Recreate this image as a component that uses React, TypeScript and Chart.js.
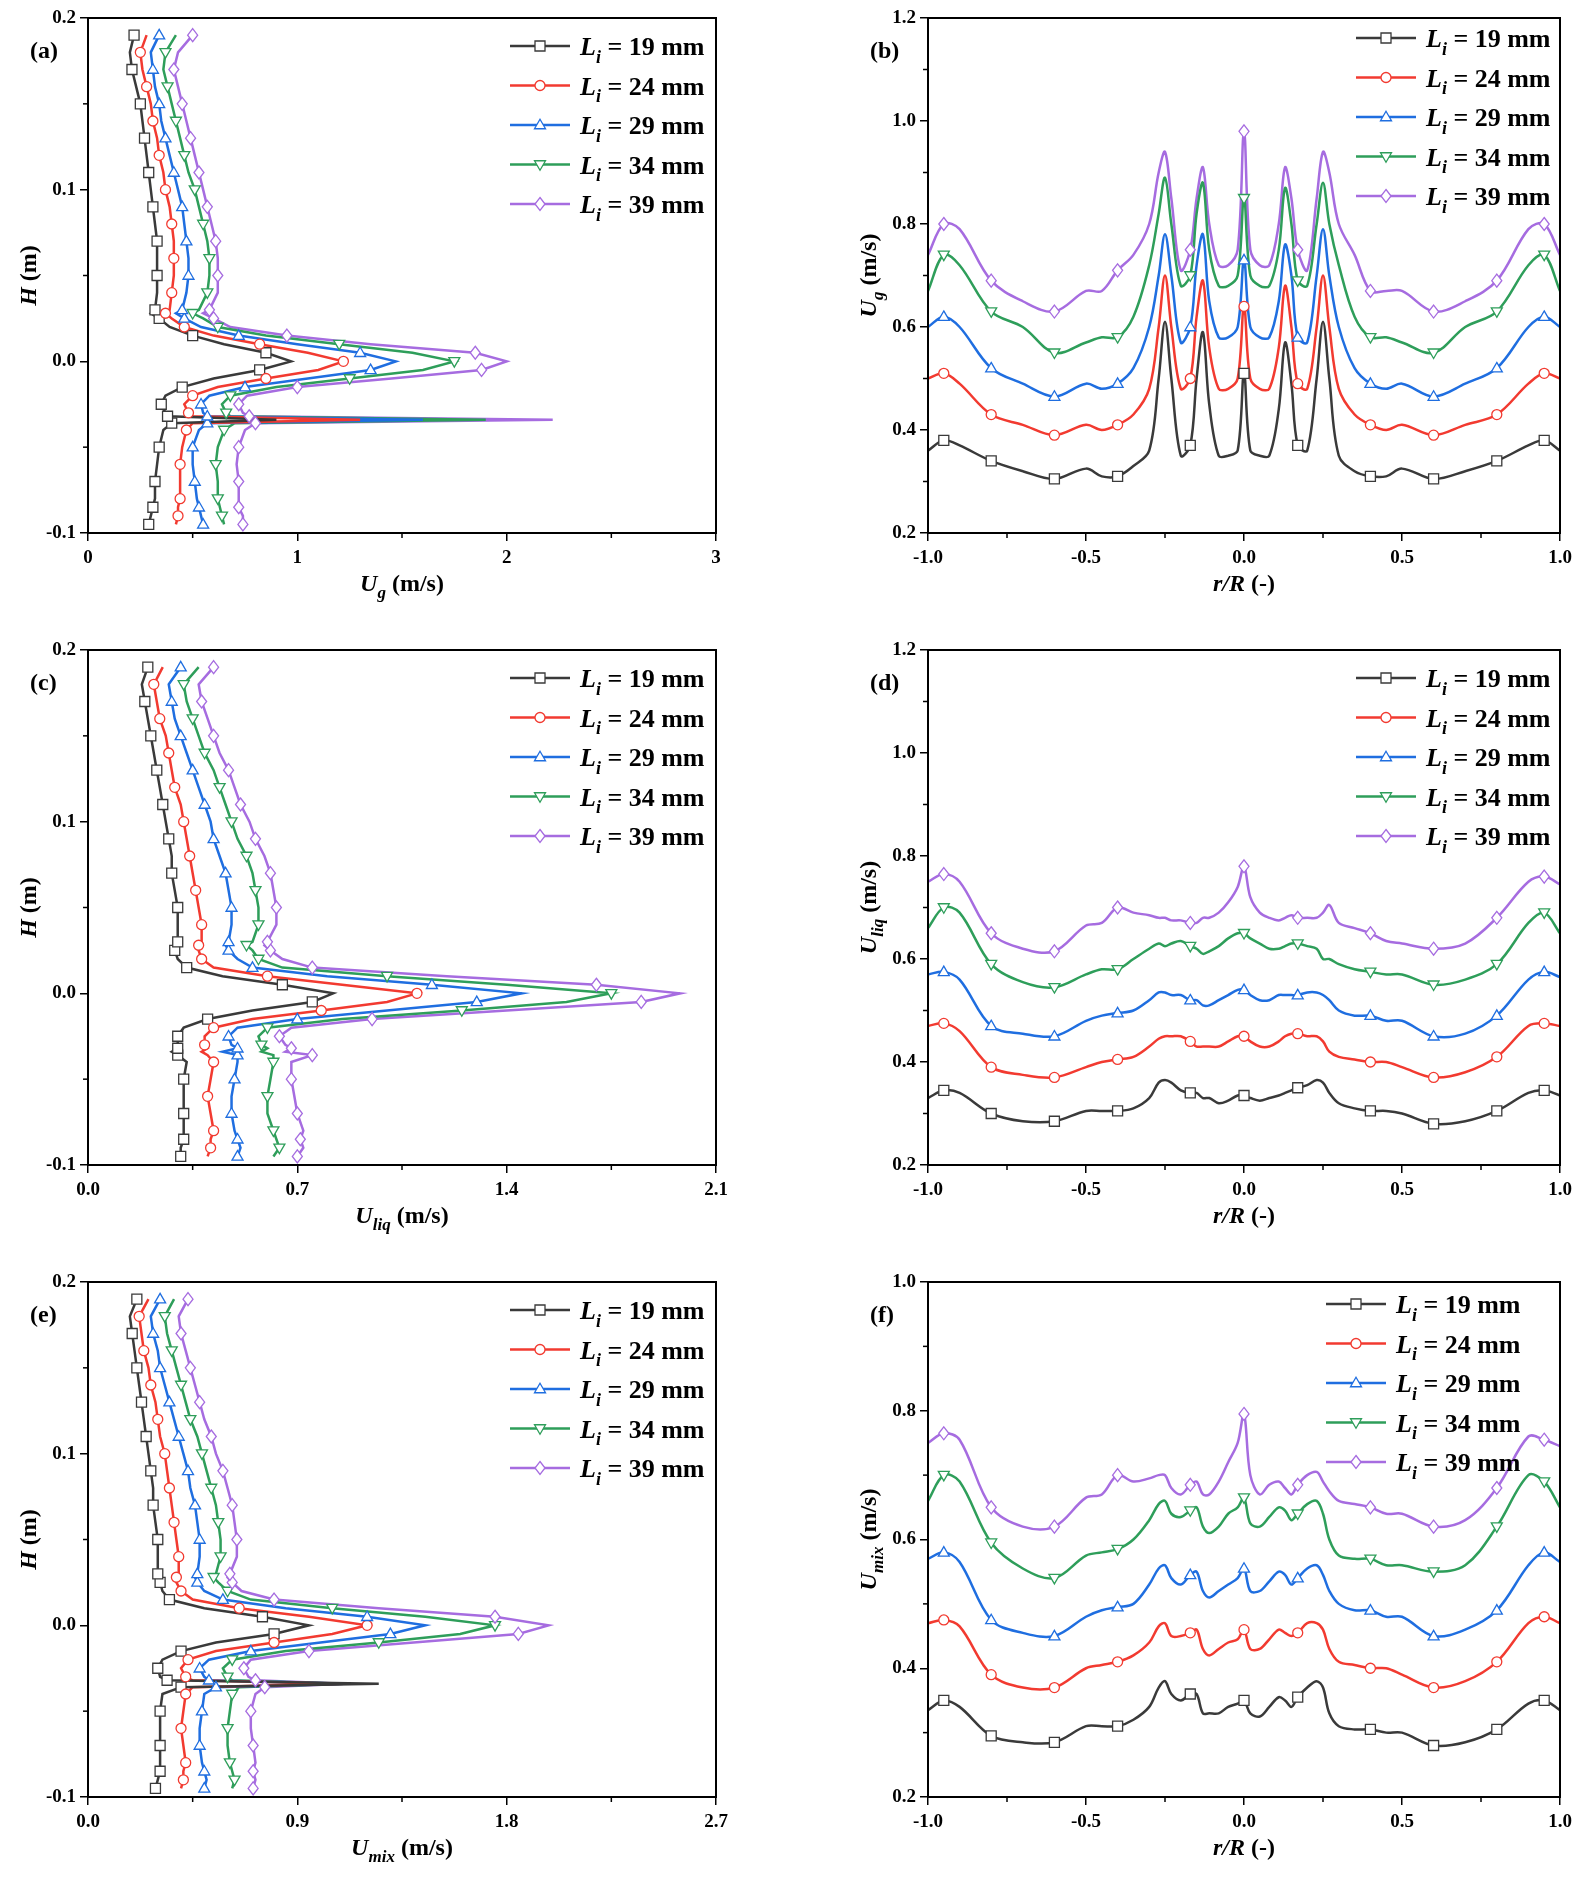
import React, { useEffect, useRef } from "react";
import { Chart, registerables } from "chart.js";
Chart.register(...registerables);

const SERIES_LABELS = ["19", "24", "29", "34", "39"];
const COLORS = ["#3a3a3a", "#f23a30", "#1f6ee0", "#2e9e5a", "#a66ce0"];
const STYLES = ["rect", "circle", "triangle", "triangleDown", "rectRot"];

const H = [-0.095,-0.09,-0.085,-0.08,-0.07,-0.06,-0.05,-0.04,-0.036,-0.034,-0.032,-0.03,-0.025,-0.02,-0.015,-0.01,-0.005,0,0.005,0.01,0.015,0.02,0.025,0.028,0.03,0.04,0.05,0.06,0.07,0.08,0.09,0.1,0.11,0.12,0.13,0.14,0.15,0.16,0.17,0.18,0.19];

const UG_19 = [0.29,0.3,0.31,0.32,0.32,0.33,0.34,0.36,0.4,0.9,0.38,0.37,0.35,0.37,0.45,0.6,0.82,0.97,0.85,0.65,0.5,0.39,0.34,0.3,0.32,0.33,0.33,0.33,0.33,0.32,0.31,0.3,0.29,0.28,0.27,0.26,0.25,0.23,0.21,0.2,0.22];
const UG_24 = [0.42,0.43,0.43,0.44,0.44,0.44,0.45,0.47,0.5,1.3,0.5,0.48,0.46,0.5,0.62,0.85,1.1,1.22,1.05,0.82,0.6,0.46,0.4,0.37,0.39,0.4,0.41,0.41,0.41,0.4,0.39,0.37,0.36,0.34,0.33,0.31,0.3,0.28,0.26,0.25,0.28];
const UG_29 = [0.55,0.54,0.53,0.52,0.51,0.5,0.5,0.53,0.57,1.6,0.57,0.55,0.54,0.58,0.75,1.05,1.35,1.47,1.3,1.0,0.72,0.54,0.46,0.42,0.45,0.47,0.48,0.48,0.47,0.46,0.45,0.43,0.41,0.39,0.37,0.35,0.34,0.32,0.31,0.3,0.34];
const UG_34 = [0.65,0.64,0.63,0.62,0.62,0.61,0.62,0.65,0.7,1.9,0.68,0.66,0.64,0.68,0.9,1.25,1.6,1.75,1.55,1.2,0.85,0.62,0.55,0.5,0.53,0.57,0.58,0.58,0.57,0.55,0.53,0.51,0.48,0.46,0.44,0.42,0.4,0.38,0.36,0.37,0.42];
const UG_39 = [0.74,0.74,0.72,0.72,0.72,0.71,0.72,0.75,0.8,2.22,0.77,0.74,0.72,0.76,1.0,1.45,1.88,2.0,1.85,1.35,0.95,0.68,0.6,0.55,0.58,0.62,0.62,0.62,0.61,0.59,0.57,0.55,0.53,0.51,0.49,0.47,0.45,0.43,0.41,0.43,0.5];

const UL_19 = [0.31,0.31,0.32,0.32,0.32,0.32,0.32,0.33,0.3,0.28,0.3,0.3,0.3,0.32,0.4,0.55,0.75,0.82,0.65,0.45,0.33,0.3,0.29,0.29,0.3,0.3,0.3,0.29,0.28,0.28,0.27,0.26,0.25,0.24,0.23,0.22,0.21,0.2,0.19,0.18,0.2];
const UL_24 = [0.4,0.41,0.41,0.42,0.41,0.4,0.41,0.42,0.4,0.38,0.4,0.39,0.39,0.42,0.55,0.78,1.0,1.1,0.85,0.6,0.42,0.38,0.37,0.37,0.38,0.38,0.37,0.36,0.35,0.34,0.33,0.32,0.31,0.29,0.28,0.27,0.26,0.24,0.23,0.22,0.25];
const UL_29 = [0.5,0.51,0.5,0.49,0.48,0.48,0.49,0.5,0.5,0.45,0.5,0.48,0.47,0.5,0.7,1.0,1.3,1.45,1.15,0.8,0.55,0.5,0.47,0.46,0.47,0.48,0.48,0.47,0.46,0.44,0.42,0.41,0.39,0.37,0.35,0.33,0.31,0.29,0.28,0.27,0.31];
const UL_34 = [0.62,0.64,0.63,0.62,0.6,0.6,0.61,0.62,0.62,0.58,0.6,0.58,0.57,0.6,0.85,1.25,1.6,1.75,1.4,1.0,0.65,0.57,0.55,0.53,0.55,0.57,0.57,0.56,0.55,0.53,0.5,0.48,0.46,0.44,0.42,0.39,0.37,0.35,0.33,0.32,0.37];
const UL_39 = [0.7,0.72,0.71,0.72,0.7,0.69,0.68,0.68,0.75,0.66,0.68,0.66,0.64,0.68,0.95,1.4,1.85,1.98,1.7,1.2,0.75,0.65,0.61,0.59,0.6,0.63,0.63,0.62,0.61,0.59,0.56,0.54,0.51,0.49,0.47,0.44,0.42,0.4,0.38,0.37,0.42];

const UM_19 = [0.29,0.3,0.31,0.31,0.31,0.31,0.31,0.32,0.4,1.25,0.34,0.31,0.3,0.32,0.4,0.55,0.8,0.95,0.75,0.5,0.35,0.32,0.31,0.3,0.3,0.3,0.3,0.29,0.28,0.28,0.27,0.26,0.25,0.24,0.23,0.22,0.21,0.2,0.19,0.18,0.21];
const UM_24 = [0.4,0.41,0.41,0.42,0.41,0.4,0.41,0.42,0.45,1.1,0.45,0.42,0.4,0.43,0.55,0.8,1.05,1.2,0.95,0.65,0.45,0.4,0.38,0.38,0.39,0.39,0.38,0.37,0.36,0.35,0.34,0.33,0.31,0.3,0.29,0.27,0.26,0.24,0.23,0.22,0.26];
const UM_29 = [0.5,0.51,0.5,0.49,0.48,0.48,0.49,0.5,0.55,1.1,0.52,0.5,0.48,0.52,0.7,1.0,1.3,1.45,1.2,0.85,0.58,0.5,0.47,0.46,0.47,0.48,0.48,0.47,0.46,0.44,0.43,0.41,0.39,0.37,0.35,0.33,0.31,0.3,0.28,0.27,0.31];
const UM_34 = [0.62,0.63,0.62,0.61,0.6,0.6,0.61,0.62,0.65,1.1,0.62,0.6,0.58,0.62,0.85,1.25,1.6,1.75,1.45,1.05,0.7,0.6,0.56,0.54,0.55,0.57,0.57,0.56,0.55,0.53,0.51,0.49,0.47,0.44,0.42,0.4,0.38,0.36,0.34,0.33,0.37];
const UM_39 = [0.71,0.72,0.71,0.72,0.71,0.7,0.7,0.72,0.76,1.1,0.72,0.69,0.67,0.7,0.95,1.4,1.85,1.98,1.75,1.25,0.8,0.66,0.62,0.6,0.61,0.64,0.64,0.63,0.62,0.6,0.58,0.55,0.53,0.5,0.48,0.46,0.44,0.42,0.4,0.39,0.43];

const R = [-1,-0.95,-0.9,-0.8,-0.7,-0.6,-0.5,-0.45,-0.4,-0.35,-0.3,-0.27,-0.25,-0.23,-0.2,-0.17,-0.15,-0.13,-0.11,-0.08,-0.05,-0.02,0,0.02,0.05,0.08,0.11,0.13,0.15,0.17,0.2,0.23,0.25,0.27,0.3,0.35,0.4,0.45,0.5,0.6,0.7,0.8,0.9,0.95,1];

const RG_19 = [0.36,0.38,0.37,0.34,0.32,0.305,0.325,0.31,0.31,0.33,0.36,0.5,0.61,0.5,0.35,0.37,0.5,0.59,0.45,0.35,0.35,0.36,0.51,0.36,0.35,0.35,0.44,0.57,0.49,0.37,0.36,0.5,0.61,0.5,0.35,0.32,0.31,0.31,0.325,0.305,0.32,0.34,0.37,0.38,0.36];
const RG_24 = [0.5,0.51,0.49,0.43,0.41,0.39,0.41,0.4,0.41,0.43,0.48,0.6,0.7,0.6,0.48,0.5,0.62,0.69,0.56,0.48,0.48,0.5,0.64,0.5,0.48,0.48,0.56,0.68,0.6,0.49,0.48,0.6,0.7,0.6,0.48,0.43,0.41,0.4,0.41,0.39,0.41,0.43,0.49,0.51,0.5];
const RG_29 = [0.6,0.62,0.6,0.52,0.49,0.465,0.49,0.48,0.49,0.52,0.6,0.7,0.78,0.7,0.57,0.6,0.72,0.78,0.65,0.58,0.58,0.6,0.73,0.6,0.58,0.58,0.65,0.76,0.7,0.58,0.57,0.7,0.79,0.7,0.6,0.52,0.49,0.48,0.49,0.465,0.49,0.52,0.6,0.62,0.6];
const RG_34 = [0.67,0.74,0.72,0.63,0.6,0.55,0.57,0.58,0.58,0.62,0.72,0.82,0.89,0.8,0.68,0.7,0.82,0.88,0.75,0.68,0.68,0.7,0.85,0.7,0.68,0.68,0.75,0.87,0.8,0.69,0.68,0.8,0.88,0.8,0.72,0.62,0.58,0.58,0.57,0.55,0.6,0.63,0.72,0.74,0.67];
const RG_39 = [0.74,0.8,0.79,0.69,0.65,0.63,0.67,0.67,0.71,0.74,0.8,0.9,0.94,0.85,0.71,0.75,0.85,0.91,0.8,0.72,0.72,0.75,0.98,0.75,0.72,0.72,0.8,0.91,0.85,0.75,0.71,0.85,0.94,0.9,0.8,0.74,0.67,0.67,0.67,0.63,0.65,0.69,0.79,0.8,0.74];

const RL_19 = [0.33,0.345,0.34,0.3,0.285,0.285,0.305,0.305,0.305,0.31,0.33,0.36,0.365,0.36,0.345,0.34,0.34,0.33,0.33,0.32,0.325,0.335,0.335,0.33,0.325,0.33,0.335,0.34,0.345,0.35,0.355,0.365,0.36,0.34,0.32,0.31,0.305,0.305,0.3,0.28,0.285,0.305,0.34,0.345,0.335];
const RL_24 = [0.47,0.475,0.46,0.39,0.375,0.37,0.39,0.4,0.405,0.41,0.43,0.445,0.45,0.45,0.45,0.44,0.43,0.43,0.43,0.43,0.44,0.45,0.45,0.44,0.43,0.43,0.44,0.45,0.455,0.455,0.45,0.45,0.44,0.42,0.41,0.405,0.4,0.4,0.39,0.37,0.38,0.41,0.47,0.475,0.47];
const RL_29 = [0.57,0.575,0.56,0.47,0.455,0.45,0.48,0.49,0.495,0.5,0.52,0.535,0.535,0.53,0.53,0.52,0.52,0.51,0.51,0.52,0.53,0.54,0.54,0.53,0.52,0.52,0.53,0.53,0.53,0.53,0.535,0.535,0.53,0.52,0.5,0.49,0.49,0.48,0.48,0.45,0.455,0.49,0.56,0.575,0.565];
const RL_34 = [0.66,0.7,0.69,0.59,0.555,0.545,0.57,0.58,0.58,0.6,0.62,0.63,0.625,0.63,0.635,0.625,0.62,0.61,0.615,0.625,0.64,0.65,0.65,0.64,0.63,0.62,0.62,0.625,0.63,0.63,0.625,0.62,0.6,0.6,0.59,0.58,0.575,0.57,0.57,0.55,0.56,0.59,0.67,0.69,0.65];
const RL_39 = [0.75,0.765,0.75,0.65,0.62,0.615,0.665,0.67,0.7,0.69,0.685,0.68,0.68,0.675,0.675,0.67,0.67,0.68,0.68,0.69,0.71,0.74,0.78,0.72,0.69,0.68,0.675,0.68,0.685,0.68,0.68,0.68,0.69,0.705,0.67,0.66,0.65,0.635,0.63,0.62,0.63,0.68,0.75,0.76,0.745];

const RM_19 = [0.335,0.35,0.34,0.295,0.285,0.285,0.31,0.31,0.31,0.32,0.34,0.37,0.38,0.36,0.35,0.36,0.36,0.33,0.33,0.33,0.34,0.345,0.35,0.33,0.325,0.34,0.355,0.35,0.34,0.355,0.37,0.38,0.37,0.33,0.31,0.305,0.305,0.3,0.3,0.28,0.285,0.305,0.345,0.35,0.335];
const RM_24 = [0.47,0.475,0.465,0.39,0.37,0.37,0.4,0.405,0.41,0.42,0.44,0.465,0.47,0.45,0.45,0.455,0.46,0.43,0.42,0.43,0.44,0.445,0.46,0.43,0.43,0.445,0.46,0.455,0.45,0.455,0.47,0.47,0.46,0.43,0.41,0.405,0.4,0.4,0.39,0.37,0.38,0.41,0.47,0.48,0.47];
const RM_29 = [0.57,0.58,0.565,0.475,0.455,0.45,0.48,0.49,0.495,0.5,0.53,0.555,0.56,0.54,0.53,0.545,0.55,0.52,0.51,0.52,0.53,0.54,0.555,0.52,0.52,0.535,0.55,0.545,0.53,0.54,0.555,0.56,0.545,0.52,0.5,0.49,0.49,0.48,0.48,0.45,0.46,0.49,0.56,0.58,0.565];
const RM_34 = [0.66,0.7,0.69,0.595,0.555,0.54,0.575,0.58,0.585,0.6,0.63,0.655,0.66,0.64,0.635,0.645,0.65,0.62,0.61,0.62,0.64,0.65,0.665,0.625,0.62,0.635,0.65,0.645,0.63,0.64,0.655,0.66,0.64,0.6,0.575,0.57,0.57,0.56,0.56,0.55,0.56,0.62,0.7,0.69,0.65];
const RM_39 = [0.75,0.765,0.755,0.65,0.62,0.62,0.665,0.67,0.7,0.69,0.695,0.7,0.7,0.68,0.67,0.685,0.69,0.67,0.67,0.69,0.72,0.75,0.795,0.7,0.67,0.685,0.69,0.68,0.67,0.685,0.7,0.705,0.69,0.675,0.66,0.655,0.65,0.64,0.64,0.62,0.63,0.68,0.76,0.755,0.745];

const RIGHT_MARKERS = [1, 3, 5, 8, 15, 22, 29, 36, 39, 41, 43];

type Part = { t: string; it?: boolean; sub?: boolean };
const FONT = '"Liberation Serif", "Times New Roman", serif';

function partFont(p: Part, size: number) {
  const s = p.sub ? Math.round(size * 0.7) : size;
  return `${p.it ? "italic " : ""}bold ${s}px ${FONT}`;
}
function measureParts(ctx: CanvasRenderingContext2D, parts: Part[], size: number) {
  let w = 0;
  for (const p of parts) { ctx.font = partFont(p, size); w += ctx.measureText(p.t).width; }
  return w;
}
function drawParts(ctx: CanvasRenderingContext2D, parts: Part[], x: number, y: number, size: number) {
  ctx.textBaseline = "alphabetic";
  ctx.textAlign = "left";
  let cx = x;
  for (const p of parts) {
    ctx.font = partFont(p, size);
    ctx.fillText(p.t, cx, p.sub ? y + size * 0.3 : y);
    cx += ctx.measureText(p.t).width;
  }
}

function drawMarker(ctx: CanvasRenderingContext2D, style: string, x: number, y: number, r: number, color: string) {
  ctx.save();
  ctx.beginPath();
  if (style === "rect") ctx.rect(x - r, y - r, 2 * r, 2 * r);
  else if (style === "circle") ctx.arc(x, y, r, 0, Math.PI * 2);
  else if (style === "triangle") { ctx.moveTo(x, y - r * 1.15); ctx.lineTo(x + r * 1.1, y + r * 0.75); ctx.lineTo(x - r * 1.1, y + r * 0.75); ctx.closePath(); }
  else if (style === "triangleDown") { ctx.moveTo(x, y + r * 1.15); ctx.lineTo(x + r * 1.1, y - r * 0.75); ctx.lineTo(x - r * 1.1, y - r * 0.75); ctx.closePath(); }
  else { ctx.moveTo(x, y - r * 1.3); ctx.lineTo(x + r * 1.0, y); ctx.lineTo(x, y + r * 1.3); ctx.lineTo(x - r * 1.0, y); ctx.closePath(); }
  ctx.fillStyle = "#fff";
  ctx.fill();
  ctx.lineWidth = 1.3;
  ctx.strokeStyle = color;
  ctx.stroke();
  ctx.restore();
}

type PanelCfg = {
  label: string;
  left: boolean;
  xs: number[][] | null;
  ys: number[][] | null;
  xMin: number; xMax: number; xStep: number; xDec: number;
  yMin: number; yMax: number; yStep: number;
  xTitle: Part[]; yTitle: Part[];
  legendDx: number; legendDy: number;
  pos: { left: number; top: number; width: number };
};

const ROW_TOPS = [0, 632, 1264];
const COL1 = { left: 0, width: 746 };
const COL2 = { left: 840, width: 748 };
const CANVAS_H = 608;

const PANELS: PanelCfg[] = [
  { label: "(a)", left: true, xs: [UG_19, UG_24, UG_29, UG_34, UG_39], ys: null, xMin: 0, xMax: 3, xStep: 1, xDec: 0, yMin: -0.1, yMax: 0.2, yStep: 0.1,
    xTitle: [{ t: "U", it: true }, { t: "g", it: true, sub: true }, { t: " (m/s)" }], yTitle: [{ t: "H", it: true }, { t: " (m)" }], legendDx: 422, legendDy: 28, pos: { left: COL1.left, top: ROW_TOPS[0], width: COL1.width } },
  { label: "(b)", left: false, xs: null, ys: [RG_19, RG_24, RG_29, RG_34, RG_39], xMin: -1, xMax: 1, xStep: 0.5, xDec: 1, yMin: 0.2, yMax: 1.2, yStep: 0.2,
    xTitle: [{ t: "r/R", it: true }, { t: " (-)" }], yTitle: [{ t: "U", it: true }, { t: "g", it: true, sub: true }, { t: " (m/s)" }], legendDx: 428, legendDy: 20, pos: { left: COL2.left, top: ROW_TOPS[0], width: COL2.width } },
  { label: "(c)", left: true, xs: [UL_19, UL_24, UL_29, UL_34, UL_39], ys: null, xMin: 0, xMax: 2.1, xStep: 0.7, xDec: 1, yMin: -0.1, yMax: 0.2, yStep: 0.1,
    xTitle: [{ t: "U", it: true }, { t: "liq", it: true, sub: true }, { t: " (m/s)" }], yTitle: [{ t: "H", it: true }, { t: " (m)" }], legendDx: 422, legendDy: 28, pos: { left: COL1.left, top: ROW_TOPS[1], width: COL1.width } },
  { label: "(d)", left: false, xs: null, ys: [RL_19, RL_24, RL_29, RL_34, RL_39], xMin: -1, xMax: 1, xStep: 0.5, xDec: 1, yMin: 0.2, yMax: 1.2, yStep: 0.2,
    xTitle: [{ t: "r/R", it: true }, { t: " (-)" }], yTitle: [{ t: "U", it: true }, { t: "liq", it: true, sub: true }, { t: " (m/s)" }], legendDx: 428, legendDy: 28, pos: { left: COL2.left, top: ROW_TOPS[1], width: COL2.width } },
  { label: "(e)", left: true, xs: [UM_19, UM_24, UM_29, UM_34, UM_39], ys: null, xMin: 0, xMax: 2.7, xStep: 0.9, xDec: 1, yMin: -0.1, yMax: 0.2, yStep: 0.1,
    xTitle: [{ t: "U", it: true }, { t: "mix", it: true, sub: true }, { t: " (m/s)" }], yTitle: [{ t: "H", it: true }, { t: " (m)" }], legendDx: 422, legendDy: 28, pos: { left: COL1.left, top: ROW_TOPS[2], width: COL1.width } },
  { label: "(f)", left: false, xs: null, ys: [RM_19, RM_24, RM_29, RM_34, RM_39], xMin: -1, xMax: 1, xStep: 0.5, xDec: 1, yMin: 0.2, yMax: 1.0, yStep: 0.2,
    xTitle: [{ t: "r/R", it: true }, { t: " (-)" }], yTitle: [{ t: "U", it: true }, { t: "mix", it: true, sub: true }, { t: " (m/s)" }], legendDx: 398, legendDy: 22, pos: { left: COL2.left, top: ROW_TOPS[2], width: COL2.width } },
];

function Panel({ cfg }: { cfg: PanelCfg }) {
  const ref = useRef<HTMLCanvasElement>(null);
  useEffect(() => {
    if (!ref.current) return;
    const datasets = SERIES_LABELS.map((lab, i) => {
      const data = cfg.left
        ? H.map((h, k) => ({ x: (cfg.xs as number[][])[i][k], y: h }))
        : R.map((r, k) => ({ x: r, y: (cfg.ys as number[][])[i][k] }));
      const markerIdx = (k: number) => cfg.left ? (k % 2 === (i % 2) && k !== 9) : RIGHT_MARKERS.includes(k);
      return {
        label: lab,
        data,
        showLine: true,
        borderColor: COLORS[i],
        borderWidth: 2.5,
        tension: cfg.left ? 0 : 0.35,
        pointRadius: 0,
        pointHoverRadius: 0,
        _markers: data.map((_, k) => markerIdx(k)),
        _style: STYLES[i],
      } as any;
    });
    const plugin = {
      id: "deco",
      afterDatasetsDraw(chart: any) {
        const ctx = chart.ctx as CanvasRenderingContext2D;
        const ca = chart.chartArea;
        // markers
        chart.data.datasets.forEach((ds: any, i: number) => {
          const meta = chart.getDatasetMeta(i);
          meta.data.forEach((el: any, k: number) => {
            if (ds._markers[k]) drawMarker(ctx, ds._style, el.x, el.y, 5, COLORS[i]);
          });
        });
        ctx.save();
        // frame
        ctx.strokeStyle = "#000";
        ctx.lineWidth = 2;
        ctx.strokeRect(ca.left, ca.top, ca.right - ca.left, ca.bottom - ca.top);
        // minor ticks
        const xs = chart.scales.x, ys = chart.scales.y;
        ctx.lineWidth = 1.5;
        for (let v = cfg.xMin + cfg.xStep / 2; v < cfg.xMax; v += cfg.xStep) {
          const px = xs.getPixelForValue(v);
          ctx.beginPath(); ctx.moveTo(px, ca.bottom); ctx.lineTo(px, ca.bottom + 5); ctx.stroke();
        }
        for (let v = cfg.yMin + cfg.yStep / 2; v < cfg.yMax; v += cfg.yStep) {
          const py = ys.getPixelForValue(v);
          ctx.beginPath(); ctx.moveTo(ca.left, py); ctx.lineTo(ca.left - 5, py); ctx.stroke();
        }
        ctx.fillStyle = "#000";
        // panel label
        ctx.font = `bold 24px ${FONT}`;
        ctx.textAlign = "left";
        ctx.textBaseline = "alphabetic";
        ctx.fillText(cfg.label, ca.left - 58, ca.top + 40);
        // x title
        const xw = measureParts(ctx, cfg.xTitle, 24);
        drawParts(ctx, cfg.xTitle, (ca.left + ca.right) / 2 - xw / 2, ca.bottom + 58, 24);
        // y title
        const yw = measureParts(ctx, cfg.yTitle, 24);
        ctx.save();
        ctx.translate(ca.left - 52, (ca.top + ca.bottom) / 2);
        ctx.rotate(-Math.PI / 2);
        drawParts(ctx, cfg.yTitle, -yw / 2, 0, 24);
        ctx.restore();
        // legend
        for (let i = 0; i < 5; i++) {
          const lx = ca.left + cfg.legendDx;
          const ly = ca.top + cfg.legendDy + i * 39.5;
          ctx.strokeStyle = COLORS[i];
          ctx.lineWidth = 2.5;
          ctx.beginPath(); ctx.moveTo(lx, ly); ctx.lineTo(lx + 60, ly); ctx.stroke();
          drawMarker(ctx, STYLES[i], lx + 30, ly, 5, COLORS[i]);
          ctx.fillStyle = "#000";
          drawParts(ctx, [{ t: "L", it: true }, { t: "i", it: true, sub: true }, { t: ` = ${SERIES_LABELS[i]} mm` }], lx + 70, ly + 9, 26);
        }
        ctx.restore();
      },
    };
    const tickFont = { family: FONT, size: 19, weight: "bold" as const };
    const chart = new Chart(ref.current, {
      type: "scatter",
      data: { datasets },
      options: {
        animation: false,
        responsive: false,
        events: [],
        layout: { padding: { top: 18, right: cfg.pos.width === COL1.width ? 30 : 28, left: 0, bottom: 0 } },
        plugins: { legend: { display: false }, tooltip: { enabled: false } },
        scales: {
          x: {
            type: "linear", min: cfg.xMin, max: cfg.xMax,
            afterFit: (s: any) => { s.height = 75; },
            ticks: { stepSize: cfg.xStep, font: tickFont, color: "#000", padding: 6, callback: (v: any) => Number(v).toFixed(cfg.xDec) },
            grid: { display: true, drawOnChartArea: false, tickLength: 8, color: "#000", lineWidth: 1.5 },
            border: { color: "#000", width: 2 },
          },
          y: {
            type: "linear", min: cfg.yMin, max: cfg.yMax,
            afterFit: (s: any) => { s.width = 88; },
            ticks: { stepSize: cfg.yStep, font: tickFont, color: "#000", padding: 4, callback: (v: any) => Number(v).toFixed(1) },
            grid: { display: true, drawOnChartArea: false, tickLength: 8, color: "#000", lineWidth: 1.5 },
            border: { color: "#000", width: 2 },
          },
        },
      },
      plugins: [plugin],
    } as any);
    return () => chart.destroy();
  }, [cfg]);
  return (
    <canvas
      ref={ref}
      width={cfg.pos.width}
      height={CANVAS_H}
      style={{ position: "absolute", left: cfg.pos.left, top: cfg.pos.top, width: cfg.pos.width, height: CANVAS_H }}
    />
  );
}

export default function App() {
  return (
    <div style={{ position: "absolute", left: 0, top: 0, width: 1589, height: 1887, background: "#fff" }}>
      {PANELS.map((p) => <Panel key={p.label} cfg={p} />)}
    </div>
  );
}
